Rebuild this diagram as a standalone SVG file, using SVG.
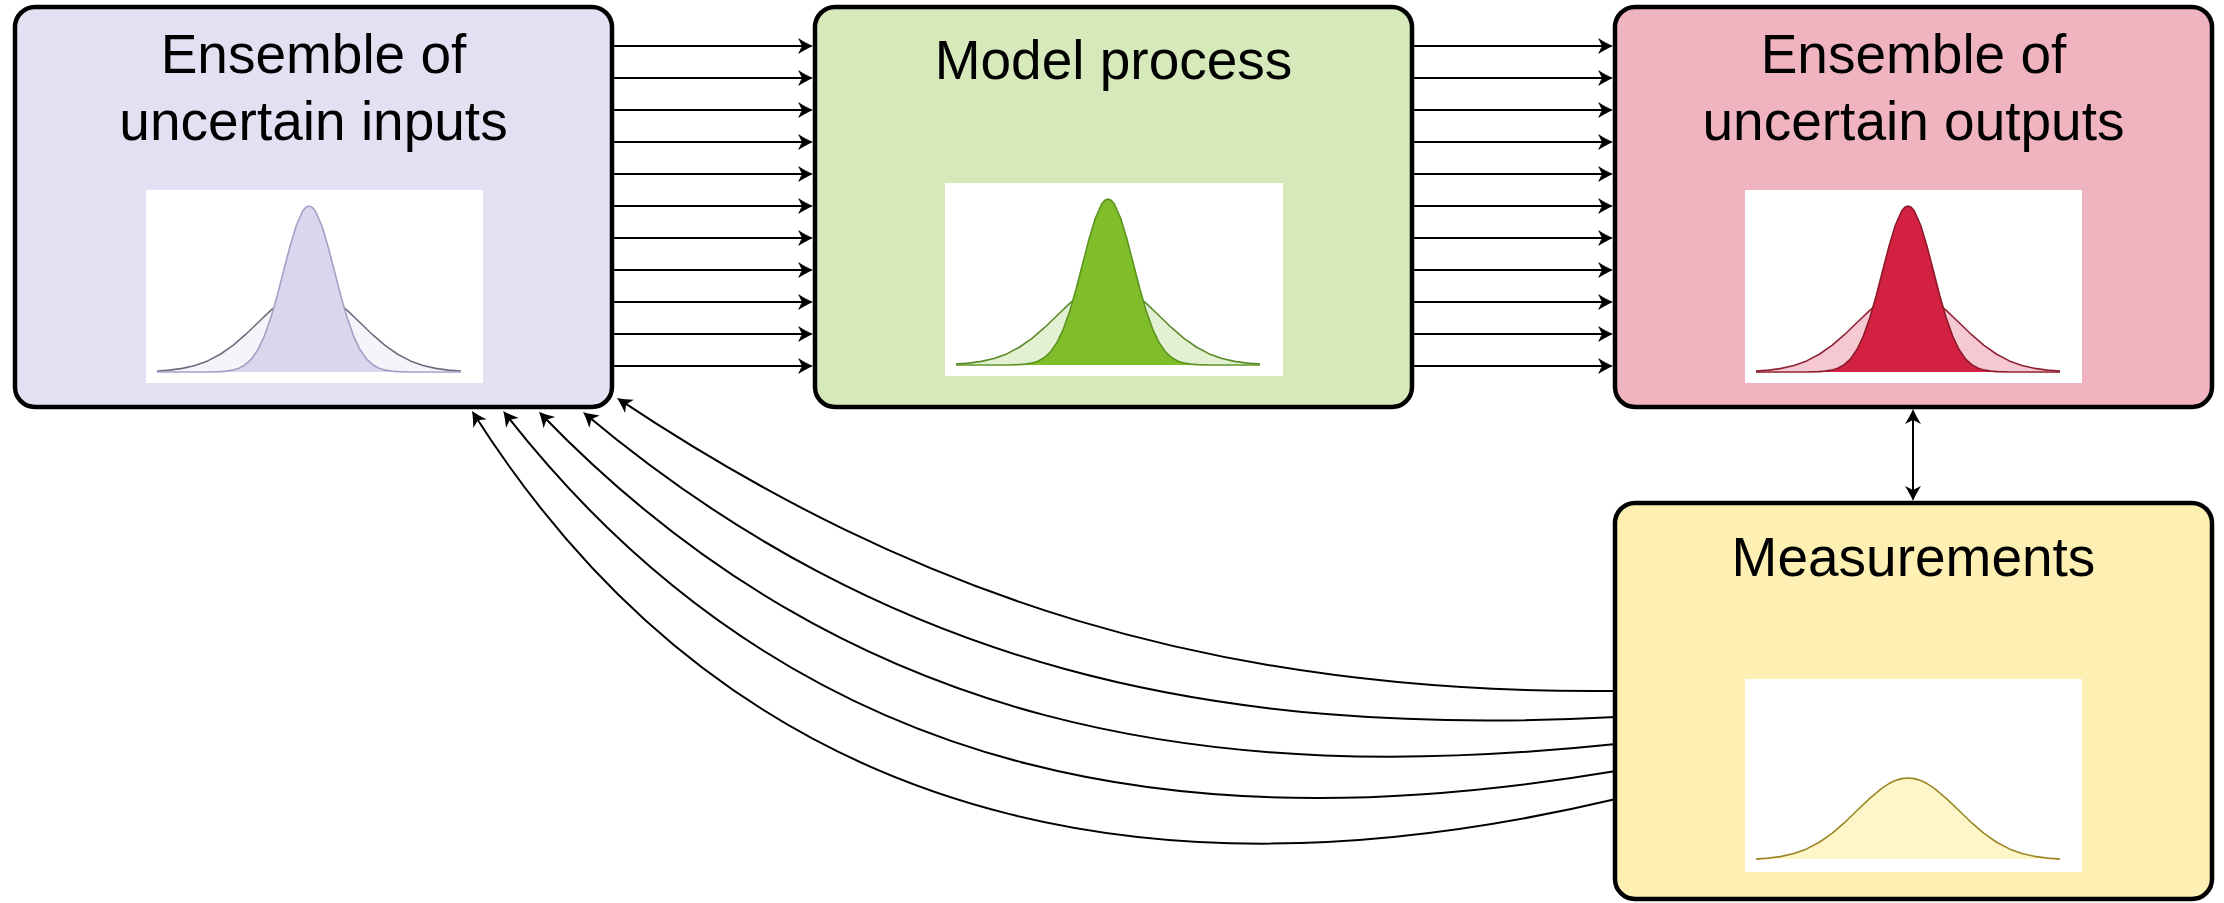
<svg xmlns="http://www.w3.org/2000/svg" xmlns:xlink="http://www.w3.org/1999/xlink" width="2224" height="903" viewBox="0 0 2224 903">
<style>
.box{stroke:#000;stroke-width:4.5}
.img{fill:#fff}
.lbl{font-family:"Liberation Sans",Arial,Helvetica,sans-serif;font-size:55px;text-anchor:middle;fill:#000}
.conn{stroke:#000;stroke-width:2;fill:none;marker-end:url(#ah)}
.dbl{marker-start:url(#ah)}
.cv{stroke-width:1.6;stroke-linejoin:round}
</style>
<defs>
<marker id="ah" markerUnits="userSpaceOnUse" viewBox="-18 -10 20 20" refX="-3" refY="0" markerWidth="20" markerHeight="20" orient="auto-start-reverse">
<path d="M0,0 C-5,-2 -10,-5 -15,-8 L-11,0 L-15,8 C-10,5 -5,2 0,0 Z" fill="#000"/>
</marker>
<path id="wide" d="M-152,-0.91 L-139.33,-1.87 L-126.67,-3.6 L-114,-6.53 L-101.33,-11.09 L-88.67,-17.74 L-76,-26.63 L-63.33,-37.54 L-50.67,-49.73 L-38,-61.89 L-25.33,-72.37 L-19,-76.43 L-12.67,-79.47 L-6.33,-81.36 L0,-82 L6.33,-81.36 L12.67,-79.47 L19,-76.43 L25.33,-72.37 L38,-61.89 L50.67,-49.73 L63.33,-37.54 L76,-26.63 L88.67,-17.74 L101.33,-11.09 L114,-6.53 L126.67,-3.6 L139.33,-1.87 L152,-0.91"/>
<path id="narrow" d="M-152,0 L-102,-0.06 L-89.25,-0.36 L-82.875,-0.84 L-76.5,-1.84 L-70.125,-3.78 L-63.75,-7.29 L-57.375,-13.21 L-51,-22.46 L-44.625,-35.9 L-38.25,-53.9 L-31.875,-76 L-25.5,-100.68 L-19.125,-125.3 L-12.75,-146.5 L-6.375,-160.89 L-3.19,-164.7 L0,-166 L3.19,-164.7 L6.375,-160.89 L12.75,-146.5 L19.125,-125.3 L25.5,-100.68 L31.875,-76 L38.25,-53.9 L44.625,-35.9 L51,-22.46 L57.375,-13.21 L63.75,-7.29 L70.125,-3.78 L76.5,-1.84 L82.875,-0.84 L89.25,-0.36 L102,-0.06 L152,0"/>
</defs>
<rect width="2224" height="903" fill="#fff"/>

<g id="node-inputs">
<rect class="box" x="15" y="7" width="597" height="400" rx="20" fill="#e4e0f4"/>
<text class="lbl" x="313.5" y="73">Ensemble of</text>
<text class="lbl" x="313.5" y="140">uncertain inputs</text>
<rect class="img" x="146" y="190" width="337" height="193"/>
<g transform="translate(309,372)">
<use xlink:href="#wide" class="cv" fill="#f6f4fb" stroke="#6f6b7e"/>
<use xlink:href="#narrow" class="cv" fill="#dbd5ee" stroke="#a6a0c6"/>
</g>
</g>

<g id="node-model">
<rect class="box" x="815" y="7" width="597" height="400" rx="20" fill="#d5e9ba"/>
<text class="lbl" x="1113.5" y="79">Model process</text>
<rect class="img" x="945" y="183" width="338" height="193"/>
<g transform="translate(1108,365)">
<use xlink:href="#wide" class="cv" fill="#e2f1d1" stroke="#5a8a2a"/>
<use xlink:href="#narrow" class="cv" fill="#80bd2b" stroke="#5c9420"/>
</g>
</g>

<g id="node-outputs">
<rect class="box" x="1615" y="7" width="597" height="400" rx="20" fill="#efb4bf"/>
<text class="lbl" x="1913.5" y="73">Ensemble of</text>
<text class="lbl" x="1913.5" y="140">uncertain outputs</text>
<rect class="img" x="1745" y="190" width="337" height="193"/>
<g transform="translate(1908,372)">
<use xlink:href="#wide" class="cv" fill="#f6c8d1" stroke="#8c2436"/>
<use xlink:href="#narrow" class="cv" fill="#d32241" stroke="#8e1a2c"/>
</g>
</g>

<g id="node-measurements">
<rect class="box" x="1615" y="503" width="597" height="396" rx="20" fill="#fef0b2"/>
<text class="lbl" x="1913.5" y="576">Measurements</text>
<rect class="img" x="1745" y="679" width="337" height="193"/>
<g transform="translate(1908,860)">
<use xlink:href="#wide" class="cv" fill="#fef5c9" stroke="#9c8624"/>
</g>
</g>

<g id="connectors">
<path class="conn" d="M614,46 H810"/>
<path class="conn" d="M614,78 H810"/>
<path class="conn" d="M614,110 H810"/>
<path class="conn" d="M614,142 H810"/>
<path class="conn" d="M614,174 H810"/>
<path class="conn" d="M614,206 H810"/>
<path class="conn" d="M614,238 H810"/>
<path class="conn" d="M614,270 H810"/>
<path class="conn" d="M614,302 H810"/>
<path class="conn" d="M614,334 H810"/>
<path class="conn" d="M614,366 H810"/>
<path class="conn" d="M1414,46 H1610"/>
<path class="conn" d="M1414,78 H1610"/>
<path class="conn" d="M1414,110 H1610"/>
<path class="conn" d="M1414,142 H1610"/>
<path class="conn" d="M1414,174 H1610"/>
<path class="conn" d="M1414,206 H1610"/>
<path class="conn" d="M1414,238 H1610"/>
<path class="conn" d="M1414,270 H1610"/>
<path class="conn" d="M1414,302 H1610"/>
<path class="conn" d="M1414,334 H1610"/>
<path class="conn" d="M1414,366 H1610"/>
<path class="conn dbl" d="M1913,412 V498"/>
<path class="conn" d="M1616,691 C1216,695 916.5,597.8 619.5,399.7"/>
<path class="conn" d="M1616,717 C1216.6,737.9 889.4,669.2 585.3,414"/>
<path class="conn" d="M1616,744 C1218,786 851.6,735.7 541,414"/>
<path class="conn" d="M1616,771 C1221.5,837 811,805 505,413.4"/>
<path class="conn" d="M1616,799 C1226.8,891 766.8,875.2 473.6,413.5"/>
</g>
</svg>
